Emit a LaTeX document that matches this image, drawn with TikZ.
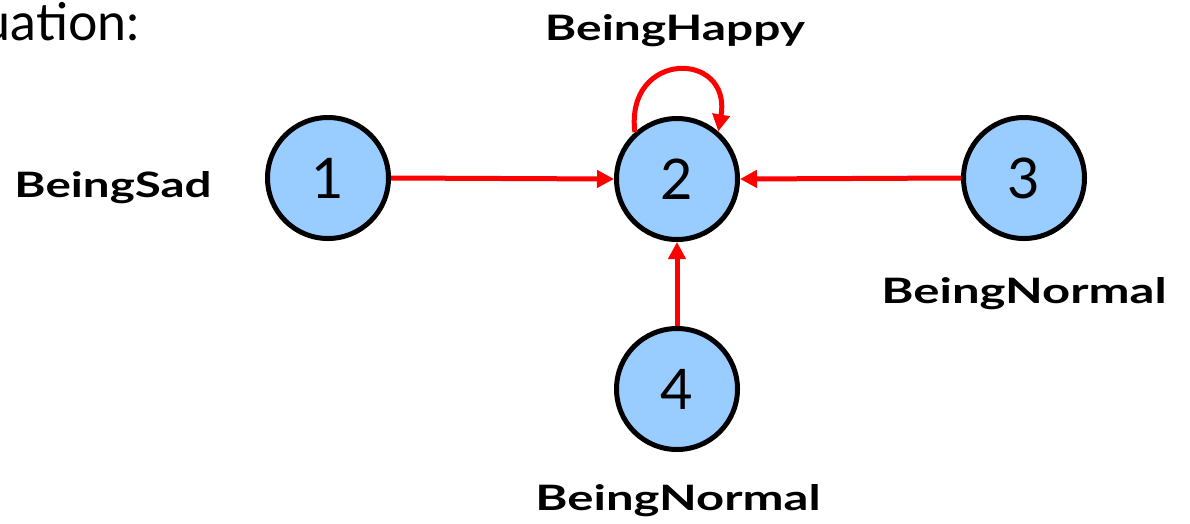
\documentclass[tikz,border=0pt]{standalone}
\usepackage{fontspec}
\setmainfont{Lato}
\usetikzlibrary{arrows.meta}
\newcommand\fitw[2]{\resizebox{#1}{26pt}{\bfseries #2}}
\definecolor{nodeblue}{HTML}{99CCFF}
\tikzset{
  state/.style={circle, draw=black, line width=5pt, fill=nodeblue, minimum size=121pt, inner sep=0pt, font=\fontsize{56}{60}\selectfont},
  conn/.style={draw=red, line width=5pt, -{Triangle[length=17pt,width=17pt]}},
  lbl/.style={inner sep=0pt, anchor=base}
}
\begin{document}
\begin{tikzpicture}[x=1pt,y=-1pt]
\useasboundingbox (0,0) rectangle (1190,523);
\clip (0,0) rectangle (1190,523);
\node[inner sep=0pt, anchor=base east, font=\fontsize{52}{56}\selectfont] (title) at (140,40) {uation:};
\node[state] (n1) at (328,178) {1};
\node[state] (n2) at (677,179) {2};
\node[state] (n3) at (1024,178) {3};
\node[state] (n4) at (677,389) {4};
\node[lbl] (l2) at (675,40) {\fitw{260pt}{BeingHappy}};
\node[lbl] (l1) at (113,197) {\fitw{197pt}{BeingSad}};
\node[lbl] (l3) at (1024,303) {\fitw{285pt}{BeingNormal}};
\node[lbl] (l4) at (678,510) {\fitw{285pt}{BeingNormal}};
\draw[conn] (n1.east) -- (n2.west);
\draw[conn] (n3.west) -- (n2.east);
\draw[conn] (n4.north) -- (n2.south);
\draw[conn] (n2.132) .. controls (625,50) and (732,50) .. (n2.49);
\end{tikzpicture}
\end{document}
